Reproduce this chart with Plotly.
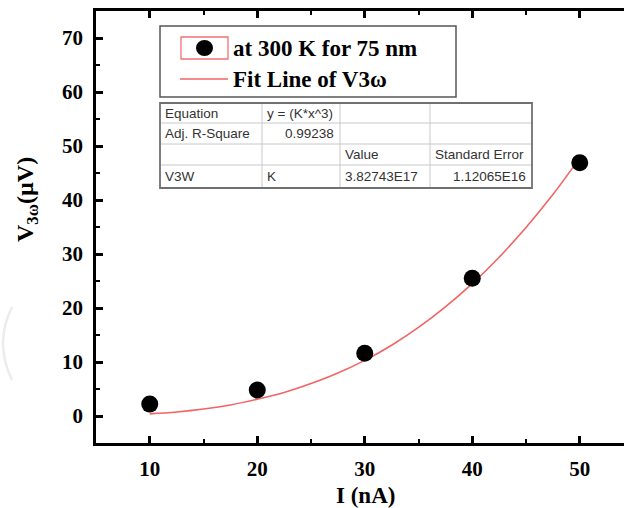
import plotly.graph_objects as go

# ---- data ----
current_nA = [10, 20, 30, 40, 50]
v3w_uV = [2.2, 4.8, 11.6, 25.5, 46.9]

fit_x = [10, 12.5, 15, 17.5, 20, 22.5, 25, 27.5, 30, 32.5, 35, 37.5, 40, 42.5, 45, 47.5, 50]
fit_y = [0.4, 0.75, 1.3, 2.05, 3.1, 4.35, 6.0, 7.95, 10.3, 13.1, 16.4, 20.2, 24.5, 29.4, 34.9, 41.0, 47.8]

x_ticks = [10, 20, 30, 40, 50]
y_ticks = [0, 10, 20, 30, 40, 50, 60, 70]

legend_names = ["at 300 K for 75 nm", "Fit Line of V3ω"]

table_rows = [
    ["Equation", "y = (K*x^3)", "", ""],
    ["Adj. R-Square", "0.99238", "", ""],
    ["", "", "Value", "Standard Error"],
    ["V3W", "K", "3.82743E17", "1.12065E16"],
]

# ---- layout geometry (pixels) ----
W, H = 624, 508
L, R, T, B = 96, 0, 11, 65
PW, PH = W - L - R, H - T - B


def px(x):
    return (x - L) / PW


def py(y):
    return (H - B - y) / PH


SERIF = "Liberation Serif, Times New Roman, serif"
SANS = "Liberation Sans, Arial, sans-serif"

fig = go.Figure()
fig.add_trace(go.Scatter(x=fit_x, y=fit_y, mode="lines", name=legend_names[1],
                         line=dict(color="#f26464", width=1.6, shape="spline"),
                         showlegend=False))
fig.add_trace(go.Scatter(x=current_nA, y=v3w_uV, mode="markers", name=legend_names[0],
                         marker=dict(color="black", size=17), showlegend=False))

shapes = []
annotations = []

# faint arc at left edge (scan artefact)
shapes.append(dict(type="path", xref="paper", yref="paper",
                   path=f"M {px(12)} {py(307)} Q {px(-6)} {py(343)} {px(12)} {py(380)}",
                   line=dict(color="#ececec", width=2.5)))

# legend box
lx0, lx1, ly0, ly1 = 160, 456, 26, 97
shapes.append(dict(type="rect", xref="paper", yref="paper", x0=px(lx0), x1=px(lx1),
                   y0=py(ly1), y1=py(ly0), line=dict(color="#555555", width=1.5)))
# marker sample with red highlight box
shapes.append(dict(type="rect", xref="paper", yref="paper", x0=px(181), x1=px(228),
                   y0=py(59), y1=py(37), line=dict(color="#f07070", width=1.3)))
shapes.append(dict(type="circle", xref="paper", yref="paper", x0=px(196), x1=px(213),
                   y0=py(56), y1=py(40), fillcolor="black", line=dict(color="black", width=0)))
# line sample
shapes.append(dict(type="line", xref="paper", yref="paper", x0=px(180), x1=px(228),
                   y0=py(79), y1=py(79), line=dict(color="#f26464", width=1.6)))
annotations.append(dict(xref="paper", yref="paper", x=px(231), y=py(48), xanchor="left",
                        yanchor="middle", showarrow=False, text="<b>" + legend_names[0] + "</b>",
                        font=dict(family=SERIF, size=23, color="black")))
annotations.append(dict(xref="paper", yref="paper", x=px(231), y=py(79), xanchor="left",
                        yanchor="middle", showarrow=False, text="<b>Fit Line of V3ω</b>",
                        font=dict(family=SERIF, size=23, color="black")))

# results table
col_edges = [160, 262, 340, 430, 532]
row_edges = [103, 123, 144, 165, 188]
for ce in col_edges[1:-1]:
    shapes.append(dict(type="line", xref="paper", yref="paper", x0=px(ce), x1=px(ce),
                       y0=py(row_edges[-1]), y1=py(row_edges[0]),
                       line=dict(color="#c8c8c8", width=1)))
for re_ in row_edges[1:-1]:
    shapes.append(dict(type="line", xref="paper", yref="paper", x0=px(col_edges[0]), x1=px(col_edges[-1]),
                       y0=py(re_), y1=py(re_), line=dict(color="#c8c8c8", width=1)))
shapes.append(dict(type="rect", xref="paper", yref="paper", x0=px(col_edges[0]), x1=px(col_edges[-1]),
                   y0=py(row_edges[-1]), y1=py(row_edges[0]), line=dict(color="#707070", width=1.8)))

align = [
    ["l", "l", "l", "l"],
    ["l", "r", "l", "l"],
    ["l", "l", "l", "l"],
    ["l", "l", "l", "r"],
]
for r, row in enumerate(table_rows):
    yc = (row_edges[r] + row_edges[r + 1]) / 2
    for c, txt in enumerate(row):
        if not txt:
            continue
        if align[r][c] == "r":
            xa, xp = "right", col_edges[c + 1] - 4
        else:
            xa, xp = "left", col_edges[c] + 3
        annotations.append(dict(xref="paper", yref="paper", x=px(xp), y=py(yc), xanchor=xa,
                                yanchor="middle", showarrow=False, text=txt,
                                font=dict(family=SANS, size=13.5, color="#333333")))

# axis titles
annotations.append(dict(xref="paper", yref="paper", x=px(27), y=py(200), xanchor="center",
                        yanchor="middle", showarrow=False, textangle=-90,
                        text="<b>V<sub>3ω</sub>(µV)</b>",
                        font=dict(family=SERIF, size=24, color="black")))
annotations.append(dict(xref="paper", yref="paper", x=px(365), y=py(495), xanchor="center",
                        yanchor="middle", showarrow=False, text="<b>I (nA)</b>",
                        font=dict(family=SERIF, size=23, color="black")))

fig.update_layout(
    width=W, height=H,
    margin=dict(l=L, r=R, t=T, b=B),
    paper_bgcolor="white", plot_bgcolor="white",
    showlegend=False,
    shapes=shapes, annotations=annotations,
    xaxis=dict(range=[5, 5 + (W - L) / 10.75], tickvals=x_ticks, ticktext=[f"<b>{v}</b>" for v in x_ticks],
               showgrid=False, zeroline=False, showline=True, linecolor="black", linewidth=2.5,
               mirror="ticks", ticks="inside", ticklen=7, tickwidth=2.5, tickcolor="black",
               minor=dict(ticks="inside", ticklen=4, tickwidth=2, dtick=5, tick0=5, tickcolor="black"),
               tickfont=dict(family=SERIF, size=21, color="black"), ticklabelstandoff=5),
    yaxis=dict(range=[-5, 75], tickvals=y_ticks, ticktext=[f"<b>{v}</b>" for v in y_ticks],
               showgrid=False, zeroline=False, showline=True, linecolor="black", linewidth=2.5,
               mirror=False, ticks="inside", ticklen=7, tickwidth=2.5, tickcolor="black",
               minor=dict(ticks="inside", ticklen=4, tickwidth=2, dtick=5, tick0=5, tickcolor="black"),
               tickfont=dict(family=SERIF, size=21, color="black"), ticklabelstandoff=6),
)

fig.write_html("out.html")
